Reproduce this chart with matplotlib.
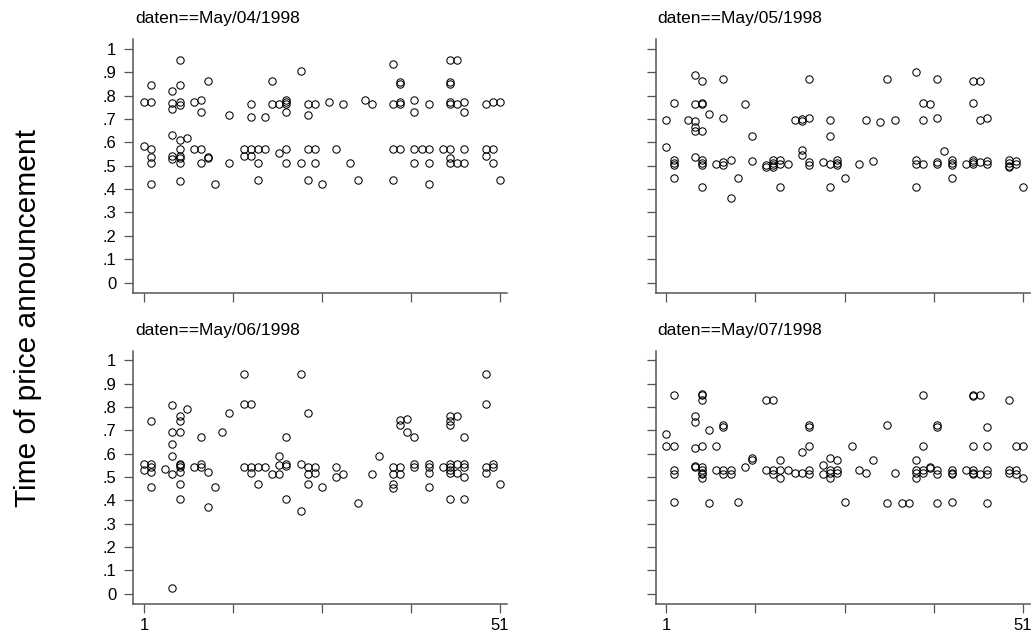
import matplotlib
matplotlib.use("Agg")
import matplotlib.pyplot as plt

plt.rcParams['font.family'] = ['Liberation Sans', 'DejaVu Sans']

# time of price announcement per observation number, one dict per day
may04 = {
    1: [.774, .584], 2: [.847, .774, .574, .536, .51, .421],
    5: [.82, .77, .743, .634, .541, .529],
    6: [.953, .847, .774, .76, .61, .574, .544, .534, .51, .437],
    7: [.621], 8: [.774, .574], 9: [.781, .729, .574, .51],
    10: [.863, .536, .533], 11: [.421], 13: [.717, .514], 15: [.574, .541],
    16: [.764, .707, .574, .541], 17: [.574, .514, .439], 18: [.707, .574],
    19: [.863, .764], 20: [.764, .557], 21: [.783, .774, .764, .729, .574, .51],
    23: [.906, .511], 24: [.764, .717, .574, .441], 25: [.764, .574, .514],
    26: [.421], 27: [.773], 28: [.574], 29: [.764], 30: [.514], 31: [.44],
    32: [.781], 33: [.764], 36: [.937, .764, .574, .439],
    37: [.857, .849, .774, .764, .574], 39: [.781, .729, .574, .511],
    40: [.574], 41: [.764, .574, .511, .421], 43: [.574],
    44: [.953, .86, .849, .774, .764, .574, .534, .511], 45: [.953, .764, .511],
    46: [.774, .729, .574, .511], 49: [.764, .574, .543], 50: [.774, .574, .511],
    51: [.774, .439],
}
may05 = {
    1: [.697, .58], 2: [.769, .523, .514, .504, .446], 4: [.697],
    5: [.889, .763, .694, .666, .651, .536],
    6: [.864, .769, .763, .649, .523, .514, .504, .409],
    7: [.724], 8: [.506], 9: [.873, .704, .517, .504], 10: [.523, .363],
    11: [.446], 12: [.763], 13: [.627, .52], 15: [.504, .493],
    16: [.523, .514, .504, .493], 17: [.523, .506, .409], 18: [.506],
    19: [.697], 20: [.70, .69, .566, .546], 21: [.873, .704, .517, .504],
    23: [.517], 24: [.697, .627, .506, .409], 25: [.523, .514, .504],
    26: [.446], 28: [.507], 29: [.697], 30: [.52], 31: [.689], 32: [.873],
    33: [.697], 36: [.904, .523, .506, .409], 37: [.769, .697, .506],
    38: [.763], 39: [.873, .704, .517, .507], 40: [.563],
    41: [.523, .514, .504, .446], 43: [.507], 44: [.864, .769, .526, .517, .506],
    45: [.864, .697, .517], 46: [.704, .52, .507], 49: [.523, .511, .50, .493],
    50: [.52, .507], 51: [.409],
}
may06 = {
    1: [.556, .531], 2: [.741, .556, .543, .523, .456], 4: [.533],
    5: [.809, .694, .64, .589, .514, .024],
    6: [.76, .741, .694, .557, .55, .543, .523, .47, .406],
    7: [.79], 8: [.543], 9: [.67, .556, .543], 10: [.523, .373], 11: [.456],
    12: [.694], 13: [.776], 15: [.944, .813, .543], 16: [.813, .543, .517],
    17: [.543, .469], 18: [.543], 19: [.514], 20: [.589, .551, .514],
    21: [.67, .556, .549, .406], 23: [.944, .556, .356],
    24: [.776, .543, .514, .47], 25: [.543, .517], 26: [.456], 28: [.543, .499],
    29: [.514], 31: [.39], 33: [.514], 34: [.589], 36: [.543, .514, .471, .454],
    37: [.743, .723, .543, .514], 38: [.747, .694], 39: [.67, .556, .543],
    41: [.556, .543, .517, .456], 43: [.543],
    44: [.76, .741, .723, .557, .543, .529, .517, .406], 45: [.76, .556, .517],
    46: [.67, .556, .543, .499, .406], 49: [.944, .813, .543, .517],
    50: [.556, .543], 51: [.47],
}
may07 = {
    1: [.686, .633], 2: [.851, .633, .531, .514, .394],
    5: [.76, .737, .624, .547, .543],
    6: [.857, .851, .831, .633, .543, .531, .517, .511, .496],
    7: [.70, .39], 8: [.633, .531], 9: [.723, .714, .531, .514], 10: [.531, .514],
    11: [.394], 12: [.543], 13: [.583, .571], 15: [.831, .531],
    16: [.831, .531, .514], 17: [.571, .531, .496], 18: [.531], 19: [.517],
    20: [.609, .517], 21: [.723, .714, .633, .531, .514], 23: [.551, .514],
    24: [.583, .531, .517, .496], 25: [.571, .531, .517], 26: [.394], 27: [.633],
    28: [.531], 29: [.517], 30: [.571], 32: [.723, .39], 33: [.517], 34: [.39],
    35: [.39], 36: [.571, .531, .517, .496], 37: [.851, .633, .531, .517],
    38: [.543, .54], 39: [.723, .714, .531, .514, .39], 41: [.531, .517, .511, .394],
    43: [.531], 44: [.851, .848, .633, .531, .517, .511], 45: [.851, .514],
    46: [.714, .633, .531, .514, .39], 49: [.831, .531, .517],
    50: [.633, .531, .514], 51: [.633, .496],
}

titles = ["daten==May/04/1998", "daten==May/05/1998",
          "daten==May/06/1998", "daten==May/07/1998"]
days = [may04, may05, may06, may07]
yticks = [0, .1, .2, .3, .4, .5, .6, .7, .8, .9, 1]
ylabels = ["0", ".1", ".2", ".3", ".4", ".5", ".6", ".7", ".8", ".9", "1"]
xticks = [1, 13.5, 26, 38.5, 51]

fig = plt.figure(figsize=(10.36, 6.36), dpi=100)

# axes boxes in figure fractions: left, bottom, width, height
boxes = [
    [0.1287, 0.5393, 0.3607, 0.3989],
    [0.6329, 0.5393, 0.3613, 0.3989],
    [0.1287, 0.0503, 0.3607, 0.3983],
    [0.6329, 0.0503, 0.3613, 0.3983],
]
axc = '#555555'

for i, (data, title) in enumerate(zip(days, titles)):
    ax = fig.add_axes(boxes[i])
    xs, ys = [], []
    for k, vals in data.items():
        for v in vals:
            xs.append(k)
            ys.append(v)
    ax.plot(xs, ys, 'o', ms=5.3, mfc='none', mec='black', mew=0.75)
    ax.set_xlim(-0.5, 52)
    ax.set_ylim(-0.045, 1.042)
    for s in ['top', 'right']:
        ax.spines[s].set_visible(False)
    for s in ['left', 'bottom']:
        ax.spines[s].set_color(axc)
        ax.spines[s].set_linewidth(1.1)
    ax.set_yticks(yticks)
    ax.set_xticks(xticks)
    ax.tick_params(length=6.8, width=0.9, color=axc, labelsize=12, pad=5.5)
    ax.tick_params(axis='x', pad=3)
    if i % 2 == 0:
        ax.set_yticklabels(ylabels)
    else:
        ax.set_yticklabels([])
    if i >= 2:
        ax.set_xticklabels(["1", "", "", "", "51"])
    else:
        ax.set_xticklabels([])
    ax.text(0.005, 1 + 16 / 254, title, transform=ax.transAxes,
            ha='left', va='baseline', fontsize=12.5)

fig.text(0.027, 0.5, "Time of price announcement", rotation=90,
         ha='center', va='center', fontsize=21.5)

fig.savefig("out.png", dpi=100)
